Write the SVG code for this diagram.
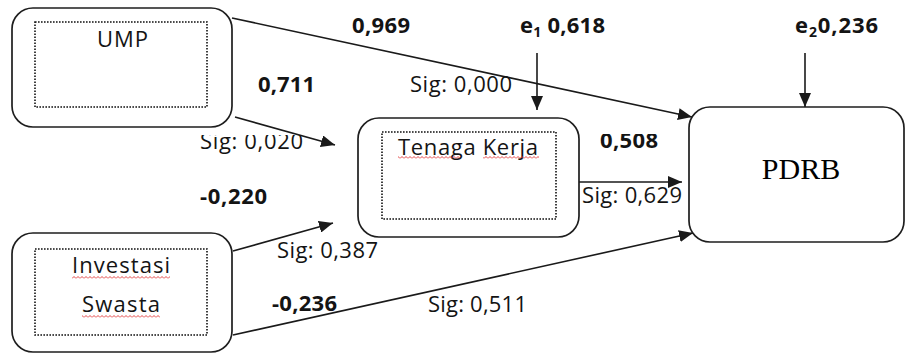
<svg xmlns="http://www.w3.org/2000/svg" width="907" height="354" viewBox="0 0 907 354">
  <defs>
    <style>
      .box{fill:#fff;stroke:#1e1e1e;stroke-width:1.7}
      .inner{fill:none;stroke:#111;stroke-width:1.6;stroke-dasharray:1.6 1.4}
      .lbl{font-family:"Open Sans",Lato,sans-serif;font-size:22px;fill:#141414}
      .b{font-weight:bold}
      .edge{stroke:#1a1a1a;stroke-width:1.6;fill:none;marker-end:url(#arrow)}
      .pdrb{font-family:"Liberation Serif","Times New Roman",serif;font-size:30px;fill:#000}
      .squig{fill:url(#wave)}
    </style>
    <marker id="arrow" markerUnits="userSpaceOnUse" markerWidth="14" markerHeight="12" refX="14" refY="6" orient="auto">
      <path d="M0,0 L14,6 L0,12 Z" fill="#1a1a1a"/>
    </marker>
    <!-- red spell-check squiggle -->
    <pattern id="wave" patternUnits="userSpaceOnUse" width="4" height="3">
      <polyline points="0,2.5 2,0.5 4,2.5" fill="none" stroke="#e03030" stroke-width="0.9"/>
    </pattern>
    <!-- label frames that cut off the top of their text -->
    <clipPath id="clip-sig020"><rect x="190" y="135" width="120" height="20"/></clipPath>
    <clipPath id="clip-508"><rect x="595" y="134" width="70" height="20"/></clipPath>
  </defs>

  <g id="connectors">
    <line class="edge" x1="232" y1="18" x2="692" y2="117"/>
    <line class="edge" x1="235" y1="117" x2="335" y2="145"/>
    <line class="edge" x1="233" y1="251" x2="333" y2="223"/>
    <line class="edge" x1="233" y1="335" x2="693" y2="233"/>
    <line class="edge" x1="579" y1="182" x2="682" y2="182"/>
    <line class="edge" x1="537" y1="53" x2="537" y2="110"/>
    <line class="edge" x1="805" y1="53" x2="805" y2="107"/>
  </g>

  <g id="node-ump">
    <rect class="box" x="12" y="8" width="220" height="119" rx="21"/>
    <rect class="inner" x="35" y="22" width="172" height="85"/>
    <text class="lbl" x="97" y="47" textLength="51">UMP</text>
  </g>

  <g id="node-tenaga-kerja">
    <rect class="box" x="358" y="118" width="221" height="119" rx="21"/>
    <rect class="inner" x="382" y="132" width="174" height="87"/>
    <text class="lbl" x="398" y="155" textLength="140">Tenaga Kerja</text>
    <rect class="squig" x="398" y="156" width="62" height="3"/>
    <rect class="squig" x="483" y="156" width="56" height="3"/>
  </g>

  <g id="node-investasi-swasta">
    <rect class="box" x="12" y="233" width="220" height="119" rx="21"/>
    <rect class="inner" x="35" y="249" width="172" height="86"/>
    <text class="lbl" x="72" y="273" textLength="98">Investasi</text>
    <rect class="squig" x="72" y="276" width="98" height="3"/>
    <text class="lbl" x="82" y="312" textLength="78">Swasta</text>
    <rect class="squig" x="82" y="315" width="78" height="3"/>
  </g>

  <g id="node-pdrb">
    <rect class="box" x="689" y="107" width="215" height="135" rx="21"/>
    <text class="pdrb" x="801" y="179" text-anchor="middle">PDRB</text>
  </g>

  <g id="labels">
    <text class="lbl b" x="352" y="33" textLength="58">0,969</text>
    <text class="lbl b" x="520" y="33" textLength="85">e<tspan font-size="14" dy="4">1</tspan><tspan dy="-4"> 0,618</tspan></text>
    <text class="lbl b" x="795" y="33" textLength="83">e<tspan font-size="14" dy="4">2</tspan><tspan dy="-4">0,236</tspan></text>
    <text class="lbl b" x="258" y="92" textLength="57">0,711</text>
    <text class="lbl" x="410" y="92" textLength="102">Sig: 0,000</text>
    <text class="lbl" x="200" y="149" textLength="103" clip-path="url(#clip-sig020)">Sig: 0,020</text>
    <text class="lbl b" x="600" y="148" textLength="58" clip-path="url(#clip-508)">0,508</text>
    <text class="lbl" x="582" y="203" textLength="100">Sig: 0,629</text>
    <text class="lbl b" x="200" y="204" textLength="67">-0,220</text>
    <text class="lbl" x="277" y="258" textLength="101">Sig: 0,387</text>
    <text class="lbl b" x="272" y="311" textLength="65">-0,236</text>
    <text class="lbl" x="428" y="312" textLength="99">Sig: 0,511</text>
  </g>
</svg>
